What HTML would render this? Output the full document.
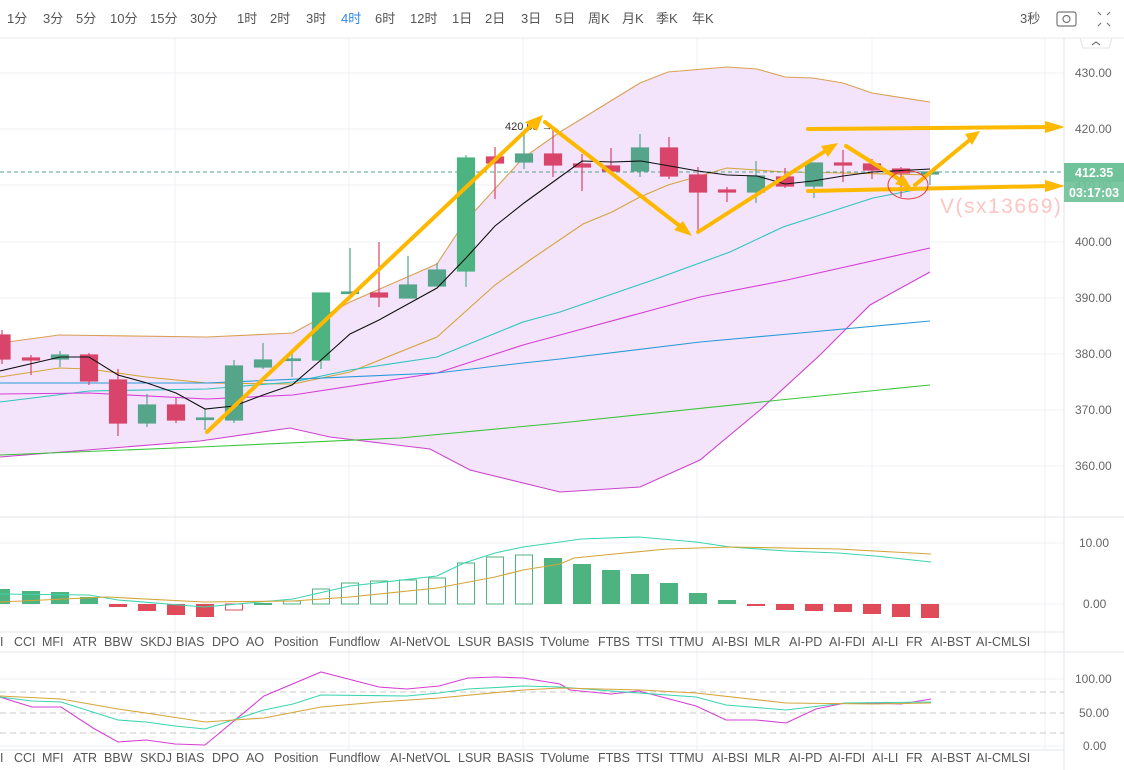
<!DOCTYPE html>
<html><head><meta charset="utf-8"><style>
html,body{margin:0;padding:0;background:#fff;width:1124px;height:770px;overflow:hidden}
svg{display:block;font-family:"Liberation Sans","Noto Sans CJK SC",sans-serif}
</style></head><body>
<svg width="1124" height="770" viewBox="0 0 1124 770" xmlns="http://www.w3.org/2000/svg">
<g font-size="13" fill="#555">
<text x="7" y="23">1分</text><text x="43" y="23">3分</text><text x="76" y="23">5分</text><text x="110" y="23">10分</text><text x="150" y="23">15分</text><text x="190" y="23">30分</text><text x="237" y="23">1时</text><text x="270" y="23">2时</text><text x="306" y="23">3时</text><text x="341" y="23" fill="#2f87e8">4时</text><text x="375" y="23">6时</text><text x="410" y="23">12时</text><text x="452" y="23">1日</text><text x="485" y="23">2日</text><text x="521" y="23">3日</text><text x="555" y="23">5日</text><text x="588" y="23">周K</text><text x="622" y="23">月K</text><text x="656" y="23">季K</text><text x="692" y="23">年K</text>
<text x="1020" y="23">3秒</text>
</g>
<rect x="1057" y="12" width="19" height="14" rx="2" fill="none" stroke="#777" stroke-width="1.2"/><circle cx="1066.5" cy="19" r="3.5" fill="none" stroke="#777" stroke-width="1.2"/>
<g stroke="#777" stroke-width="1.2"><path d="M1098 12l3 3M1110 12l-3 3M1098 26l3-3M1110 26l-3-3"/></g>
<line x1="0" y1="38" x2="1124" y2="38" stroke="#e6e8ec"/>
<path d="M1080 38l3 10h26l3-10" fill="none" stroke="#e3e3e3"/><path d="M1092 45l4-3 4 3" fill="none" stroke="#555"/>
<g stroke="#eef1f4" stroke-width="1">
<line x1="0" y1="73" x2="1064" y2="73"/><line x1="0" y1="129" x2="1064" y2="129"/><line x1="0" y1="185" x2="1064" y2="185"/><line x1="0" y1="242" x2="1064" y2="242"/><line x1="0" y1="298" x2="1064" y2="298"/><line x1="0" y1="354" x2="1064" y2="354"/><line x1="0" y1="410" x2="1064" y2="410"/><line x1="0" y1="466" x2="1064" y2="466"/>
<line x1="175" y1="38" x2="175" y2="750"/><line x1="349" y1="38" x2="349" y2="750"/><line x1="523" y1="38" x2="523" y2="750"/><line x1="697" y1="38" x2="697" y2="750"/><line x1="872" y1="38" x2="872" y2="750"/><line x1="1045" y1="38" x2="1045" y2="750"/>
<line x1="0" y1="543" x2="1064" y2="543"/><line x1="0" y1="604" x2="1064" y2="604"/><line x1="0" y1="679" x2="1064" y2="679"/><line x1="0" y1="746" x2="1064" y2="746"/>
</g>
<path d="M0 343L59 335L207 337L293 333L350 302L437 264L464 223L523 158L560 132L583 118L640 83L668 72L727 67L757 69L785 77L813 78L843 83L872 93L930 102L930 272L870 305L820 355L760 410L700 460L640 487L560 492L470 470L430 449L330 437L290 428L200 441L0 457Z" fill="#f3e4fb"/>
<g fill="none" stroke-width="1.1">
<polyline stroke="#d9a055" points="0,343 59,335 207,337 293,333 350,302 437,264 464,223 523,158 560,132 583,118 640,83 668,72 727,67 757,69 785,77 813,78 843,83 872,93 930,102"/>
<polyline stroke="#d4a53a" points="0,377 59,368 89,369 146,377 207,383 293,384 350,372 437,337 495,285 530,260 583,224 612,212 640,197 668,185 727,168 785,172 843,173 930,175"/>
<polyline stroke="#cc44cc" points="0,457 200,441 290,428 330,437 430,449 470,470 560,492 640,487 700,460 760,410 820,355 870,305 930,272"/>
<polyline stroke="#2ec4c0" points="0,402 89,391 207,389 293,382 350,370 437,357 523,322 560,312 653,280 730,252 783,227 873,198 930,187"/>
<polyline stroke="#d63fd6" points="0,394 89,393 207,399 293,395 437,373 523,345 560,335 700,297 787,280 930,248"/>
<polyline stroke="#2a9ad6" points="0,383 207,383 437,373 523,363 560,359 700,342 800,333 930,321"/>
<polyline stroke="#3cc43c" points="0,455 200,447 400,438 560,423 780,400 930,385"/>
</g>
<line x1="0" y1="172" x2="1064" y2="172" stroke="#55a58a" stroke-dasharray="4,3"/>
<g stroke-width="1.2">
<g stroke="#d9456a" fill="#d9456a">
<line x1="2" y1="330" x2="2" y2="364"/><rect x="-7" y="335" width="17" height="24"/>
<line x1="31" y1="355" x2="31" y2="375"/><rect x="22.5" y="358" width="17" height="2"/>
<line x1="89" y1="353" x2="89" y2="385"/><rect x="80.5" y="355" width="17" height="26"/>
<line x1="118" y1="369" x2="118" y2="436"/><rect x="109.5" y="380" width="17" height="43"/>
<line x1="176" y1="398" x2="176" y2="423"/><rect x="167.5" y="405" width="17" height="15"/>
<line x1="379" y1="242" x2="379" y2="307"/><rect x="370.5" y="293" width="17" height="4"/>
<line x1="495" y1="147" x2="495" y2="199"/><rect x="486.5" y="157" width="17" height="6"/>
<line x1="553" y1="127" x2="553" y2="177"/><rect x="544.5" y="154" width="17" height="11"/>
<line x1="582" y1="154" x2="582" y2="191"/><rect x="573.5" y="164" width="17" height="3"/>
<line x1="611" y1="148" x2="611" y2="175"/><rect x="602.5" y="166" width="17" height="5"/>
<line x1="669" y1="137" x2="669" y2="179"/><rect x="660.5" y="148" width="17" height="28"/>
<line x1="698" y1="167" x2="698" y2="232"/><rect x="689.5" y="175" width="17" height="17"/>
<line x1="727" y1="187" x2="727" y2="202"/><rect x="718.5" y="190" width="17" height="2"/>
<line x1="785" y1="168" x2="785" y2="188"/><rect x="776.5" y="177" width="17" height="9"/>
<line x1="843" y1="150" x2="843" y2="182"/><rect x="834.5" y="163" width="17" height="2"/>
<line x1="872" y1="159" x2="872" y2="179"/><rect x="863.5" y="164" width="17" height="6"/>
<line x1="901" y1="167" x2="901" y2="197"/><rect x="892.5" y="169" width="17" height="4"/>
</g>
<g stroke="#55a58a" fill="#55a58a">
<line x1="60" y1="351" x2="60" y2="367"/><rect x="51.5" y="355" width="17" height="4"/>
<line x1="147" y1="394" x2="147" y2="427"/><rect x="138.5" y="405" width="17" height="18"/>
<line x1="205" y1="409" x2="205" y2="430"/><rect x="196.5" y="418" width="17" height="1.5"/>
<line x1="234" y1="360" x2="234" y2="423"/><rect x="225.5" y="366" width="17" height="54"/>
<line x1="263" y1="343" x2="263" y2="369"/><rect x="254.5" y="360" width="17" height="7"/>
<line x1="292" y1="353" x2="292" y2="377"/><rect x="283.5" y="359" width="17" height="1.5"/>
<line x1="350" y1="248" x2="350" y2="293"/><rect x="341.5" y="292" width="17" height="1.5"/>
<line x1="408" y1="256" x2="408" y2="298"/><rect x="399.5" y="285" width="17" height="13"/>
<line x1="437" y1="263" x2="437" y2="286"/><rect x="428.5" y="270" width="17" height="16"/>
<line x1="524" y1="132" x2="524" y2="169"/><rect x="515.5" y="154" width="17" height="8"/>
<line x1="640" y1="134" x2="640" y2="177"/><rect x="631.5" y="148" width="17" height="23"/>
<line x1="756" y1="161" x2="756" y2="203"/><rect x="747.5" y="176" width="17" height="16"/>
<line x1="814" y1="163" x2="814" y2="198"/><rect x="805.5" y="163" width="17" height="23"/>
<line x1="930" y1="173" x2="930" y2="185"/><rect x="921.5" y="172" width="17" height="2"/>
</g>
<g stroke="#4db380" fill="#4db380">
<line x1="321" y1="293" x2="321" y2="369"/><rect x="312.5" y="293" width="17" height="67"/>
<line x1="466" y1="155" x2="466" y2="287"/><rect x="457.5" y="158" width="17" height="113"/>
</g>
</g>
<polyline fill="none" stroke="#111" stroke-width="1.1" points="0,371 60,357 89,357 118,375 147,383 176,393 205,409 234,406 263,395 292,385 321,360 350,334 379,320 408,304 437,288 466,258 495,226 524,203 553,182 582,161 612,162 641,161 670,166 698,171 727,175 757,176 785,184 813,181 843,176 873,172 930,169"/>
<text x="505" y="130" font-size="11" fill="#333">420.65 →</text>
<g stroke="#ffb800" stroke-width="4" fill="none" stroke-linecap="round">
<line x1="207" y1="432" x2="535" y2="122"/><line x1="545" y1="122" x2="685" y2="230"/><line x1="698" y1="232" x2="830" y2="148"/><line x1="846" y1="146" x2="905" y2="183"/><line x1="915" y1="185" x2="972" y2="138"/>
<line x1="808" y1="129" x2="1050" y2="127"/><line x1="808" y1="191" x2="1050" y2="186"/>
</g>
<g fill="#ffb800">
<polygon points="543,115 525,122 537,131"/><polygon points="692,236 674,230 683,221"/><polygon points="838,143 821,146 828,157"/><polygon points="912,189 895,184 903,175"/><polygon points="980,131 965,134 972,145"/>
<polygon points="1065,127 1045,121 1045,133"/><polygon points="1065,186 1045,180 1045,192"/>
</g>
<ellipse cx="908" cy="185" rx="20" ry="14" fill="none" stroke="#e53935" stroke-width="1"/>
<text x="940" y="213" font-size="21" letter-spacing="1.5" fill="#ffc4c4">V(sx13669)</text>
<line x1="1064" y1="38" x2="1064" y2="770" stroke="#e0e3e8"/>
<g font-size="12" fill="#666">
<text x="1075" y="77">430.00</text><text x="1075" y="133">420.00</text><text x="1075" y="246">400.00</text><text x="1075" y="302">390.00</text><text x="1075" y="358">380.00</text><text x="1075" y="414">370.00</text><text x="1075" y="470">360.00</text><text x="1075" y="190">410.00</text>
<text x="1079" y="547">10.00</text><text x="1083" y="608">0.00</text>
<text x="1075" y="683">100.00</text><text x="1079" y="717">50.00</text><text x="1083" y="750">0.00</text>
</g>
<rect x="1064" y="163" width="60" height="19" fill="#6fc29a"/><rect x="1064" y="182" width="60" height="20" fill="#6fc29a" opacity="0.92"/>
<text x="1075" y="177" font-size="12.5" font-weight="bold" fill="#fff">412.35</text><text x="1069" y="197" font-size="12.5" font-weight="bold" fill="#fff">03:17:03</text>
<g stroke="#e3e5ea"><line x1="0" y1="517" x2="1124" y2="517"/><line x1="0" y1="632" x2="1064" y2="632"/><line x1="0" y1="652" x2="1124" y2="652"/><line x1="0" y1="750" x2="1064" y2="750"/></g>
<g>
<g fill="#4db380"><rect x="-7" y="589" width="17" height="15"/><rect x="22" y="591" width="18" height="13"/><rect x="51" y="592" width="18" height="12"/><rect x="80" y="597" width="18" height="7"/><rect x="254" y="603" width="18" height="2"/>
<rect x="544" y="558" width="18" height="46"/><rect x="573" y="564" width="18" height="40"/><rect x="602" y="570" width="18" height="34"/><rect x="631" y="574" width="18" height="30"/><rect x="660" y="583" width="18" height="21"/><rect x="689" y="593" width="18" height="11"/><rect x="718" y="600" width="18" height="4"/></g>
<g fill="#e04b5a"><rect x="109" y="604" width="18" height="3"/><rect x="138" y="604" width="18" height="7"/><rect x="167" y="604" width="18" height="11"/><rect x="196" y="604" width="18" height="13"/>
<rect x="747" y="604" width="18" height="2"/><rect x="776" y="604" width="18" height="6"/><rect x="805" y="604" width="18" height="7"/><rect x="834" y="604" width="18" height="8"/><rect x="863" y="604" width="18" height="10"/><rect x="892" y="604" width="18" height="13"/><rect x="921" y="604" width="18" height="14"/></g>
<rect x="225.5" y="604" width="17" height="6" fill="#fff" stroke="#e04b5a"/>
<g fill="none" stroke="#4db380"><rect x="283.5" y="601" width="17" height="3"/><rect x="312.5" y="589" width="17" height="15"/><rect x="341.5" y="583" width="17" height="21"/><rect x="370.5" y="581" width="17" height="23"/><rect x="399.5" y="580" width="17" height="24"/><rect x="428.5" y="578" width="17" height="26"/><rect x="457.5" y="563" width="17" height="41"/><rect x="486.5" y="557" width="17" height="47"/><rect x="515.5" y="555" width="17" height="49"/></g>
</g>
<g fill="none" stroke-width="1.1">
<polyline stroke="#3cd4b0" points="0,594 89,595 118,600 204,607 293,599 350,586 437,576 464,563 495,553 523,547 560,542 581,539 639,537 696,542 730,547 786,551 838,553 875,556 931,562"/>
<polyline stroke="#d4a53a" points="0,602 107,597 204,602 293,601 350,597 437,588 495,577 523,570 560,564 574,558 614,554 667,549 730,547 838,549 931,554"/>
</g>
<g stroke="#c8c8c8" stroke-dasharray="6,4"><line x1="0" y1="692" x2="1064" y2="692"/><line x1="0" y1="713" x2="1064" y2="713"/><line x1="0" y1="733" x2="1064" y2="733"/></g>
<g fill="none" stroke-width="1.1">
<polyline stroke="#d63fd6" points="0,697 32,707 61,707 93,728 118,742 146,740 175,744 205,745 264,696 321,672 379,687 407,689 439,686 468,678 496,677 523,678 560,684 570,690 611,694 639,691 696,706 726,720 756,720 786,723 816,709 845,703 875,703 901,704 931,699"/>
<polyline stroke="#3cd4b0" points="0,697 32,701 61,702 118,720 146,722 175,726 205,729 264,710 293,704 321,695 407,696 439,693 468,689 523,686 560,687 611,691 696,697 726,705 786,710 845,703 931,702"/>
<polyline stroke="#d4a53a" points="0,696 61,699 118,709 146,713 205,722 264,718 321,707 379,702 439,698 523,690 560,688 641,690 696,693 786,703 875,704 931,703"/>
</g>
<g font-size="12.5" fill="#555">
<text x="0" y="646">I</text><text x="14" y="646">CCI</text><text x="42" y="646">MFI</text><text x="73" y="646">ATR</text><text x="104" y="646">BBW</text><text x="140" y="646">SKDJ</text><text x="176" y="646">BIAS</text><text x="212" y="646">DPO</text><text x="246" y="646">AO</text><text x="274" y="646">Position</text><text x="329" y="646">Fundflow</text><text x="390" y="646">AI-NetVOL</text><text x="458" y="646">LSUR</text><text x="497" y="646">BASIS</text><text x="540" y="646">TVolume</text><text x="598" y="646">FTBS</text><text x="636" y="646">TTSI</text><text x="669" y="646">TTMU</text><text x="712" y="646">AI-BSI</text><text x="754" y="646">MLR</text><text x="789" y="646">AI-PD</text><text x="829" y="646">AI-FDI</text><text x="872" y="646">AI-LI</text><text x="906" y="646">FR</text><text x="931" y="646">AI-BST</text><text x="976" y="646">AI-CMLSI</text>
<text x="0" y="762">I</text><text x="14" y="762">CCI</text><text x="42" y="762">MFI</text><text x="73" y="762">ATR</text><text x="104" y="762">BBW</text><text x="140" y="762">SKDJ</text><text x="176" y="762">BIAS</text><text x="212" y="762">DPO</text><text x="246" y="762">AO</text><text x="274" y="762">Position</text><text x="329" y="762">Fundflow</text><text x="390" y="762">AI-NetVOL</text><text x="458" y="762">LSUR</text><text x="497" y="762">BASIS</text><text x="540" y="762">TVolume</text><text x="598" y="762">FTBS</text><text x="636" y="762">TTSI</text><text x="669" y="762">TTMU</text><text x="712" y="762">AI-BSI</text><text x="754" y="762">MLR</text><text x="789" y="762">AI-PD</text><text x="829" y="762">AI-FDI</text><text x="872" y="762">AI-LI</text><text x="906" y="762">FR</text><text x="931" y="762">AI-BST</text><text x="976" y="762">AI-CMLSI</text>
</g>
</svg>
</body></html>
